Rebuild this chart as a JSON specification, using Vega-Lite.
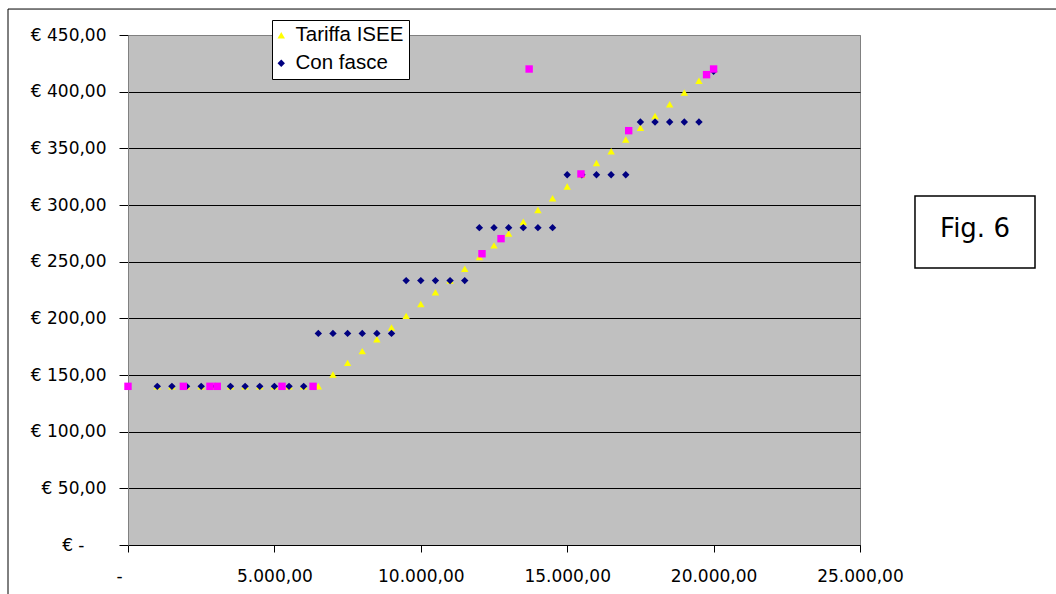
{
  "$schema": "https://vega.github.io/schema/vega-lite/v6.json",
  "width": 732,
  "height": 510,
  "autosize": {"type": "none"},
  "padding": {"left": 128, "top": 35, "right": 196, "bottom": 49},
  "background": "white",
  "config": {
    "view": {"fill": "#C0C0C0", "stroke": "#808080", "strokeWidth": 1},
    "font": "Liberation Sans"
  },
  "datasets": {
    "pts": [
      {"s": "Tariffa ISEE", "x": 1000, "y": 140},
      {"s": "Tariffa ISEE", "x": 1500, "y": 140},
      {"s": "Tariffa ISEE", "x": 2000, "y": 140},
      {"s": "Tariffa ISEE", "x": 2500, "y": 140},
      {"s": "Tariffa ISEE", "x": 3000, "y": 140},
      {"s": "Tariffa ISEE", "x": 3500, "y": 140},
      {"s": "Tariffa ISEE", "x": 4000, "y": 140},
      {"s": "Tariffa ISEE", "x": 4500, "y": 140},
      {"s": "Tariffa ISEE", "x": 5000, "y": 140},
      {"s": "Tariffa ISEE", "x": 5500, "y": 140},
      {"s": "Tariffa ISEE", "x": 6000, "y": 140},
      {"s": "Tariffa ISEE", "x": 6500, "y": 140},
      {"s": "Tariffa ISEE", "x": 7000, "y": 150.4},
      {"s": "Tariffa ISEE", "x": 7500, "y": 160.7},
      {"s": "Tariffa ISEE", "x": 8000, "y": 171.1},
      {"s": "Tariffa ISEE", "x": 8500, "y": 181.5},
      {"s": "Tariffa ISEE", "x": 9000, "y": 191.9},
      {"s": "Tariffa ISEE", "x": 9500, "y": 202.2},
      {"s": "Tariffa ISEE", "x": 10000, "y": 212.6},
      {"s": "Tariffa ISEE", "x": 10500, "y": 223.0},
      {"s": "Tariffa ISEE", "x": 11000, "y": 233.3},
      {"s": "Tariffa ISEE", "x": 11500, "y": 243.7},
      {"s": "Tariffa ISEE", "x": 12000, "y": 254.1},
      {"s": "Tariffa ISEE", "x": 12500, "y": 264.4},
      {"s": "Tariffa ISEE", "x": 13000, "y": 274.8},
      {"s": "Tariffa ISEE", "x": 13500, "y": 285.2},
      {"s": "Tariffa ISEE", "x": 14000, "y": 295.6},
      {"s": "Tariffa ISEE", "x": 14500, "y": 305.9},
      {"s": "Tariffa ISEE", "x": 15000, "y": 316.3},
      {"s": "Tariffa ISEE", "x": 15500, "y": 326.7},
      {"s": "Tariffa ISEE", "x": 16000, "y": 337.0},
      {"s": "Tariffa ISEE", "x": 16500, "y": 347.4},
      {"s": "Tariffa ISEE", "x": 17000, "y": 357.8},
      {"s": "Tariffa ISEE", "x": 17500, "y": 368.1},
      {"s": "Tariffa ISEE", "x": 18000, "y": 378.5},
      {"s": "Tariffa ISEE", "x": 18500, "y": 388.9},
      {"s": "Tariffa ISEE", "x": 19000, "y": 399.3},
      {"s": "Tariffa ISEE", "x": 19500, "y": 409.6},
      {"s": "Tariffa ISEE", "x": 20000, "y": 420.0},
      {"s": "Con fasce", "x": 1000, "y": 140},
      {"s": "Con fasce", "x": 1500, "y": 140},
      {"s": "Con fasce", "x": 2000, "y": 140},
      {"s": "Con fasce", "x": 2500, "y": 140},
      {"s": "Con fasce", "x": 3000, "y": 140},
      {"s": "Con fasce", "x": 3500, "y": 140},
      {"s": "Con fasce", "x": 4000, "y": 140},
      {"s": "Con fasce", "x": 4500, "y": 140},
      {"s": "Con fasce", "x": 5000, "y": 140},
      {"s": "Con fasce", "x": 5500, "y": 140},
      {"s": "Con fasce", "x": 6000, "y": 140},
      {"s": "Con fasce", "x": 6500, "y": 186.7},
      {"s": "Con fasce", "x": 7000, "y": 186.7},
      {"s": "Con fasce", "x": 7500, "y": 186.7},
      {"s": "Con fasce", "x": 8000, "y": 186.7},
      {"s": "Con fasce", "x": 8500, "y": 186.7},
      {"s": "Con fasce", "x": 9000, "y": 186.7},
      {"s": "Con fasce", "x": 9500, "y": 233.3},
      {"s": "Con fasce", "x": 10000, "y": 233.3},
      {"s": "Con fasce", "x": 10500, "y": 233.3},
      {"s": "Con fasce", "x": 11000, "y": 233.3},
      {"s": "Con fasce", "x": 11500, "y": 233.3},
      {"s": "Con fasce", "x": 12000, "y": 280.0},
      {"s": "Con fasce", "x": 12500, "y": 280.0},
      {"s": "Con fasce", "x": 13000, "y": 280.0},
      {"s": "Con fasce", "x": 13500, "y": 280.0},
      {"s": "Con fasce", "x": 14000, "y": 280.0},
      {"s": "Con fasce", "x": 14500, "y": 280.0},
      {"s": "Con fasce", "x": 15000, "y": 326.7},
      {"s": "Con fasce", "x": 15500, "y": 326.7},
      {"s": "Con fasce", "x": 16000, "y": 326.7},
      {"s": "Con fasce", "x": 16500, "y": 326.7},
      {"s": "Con fasce", "x": 17000, "y": 326.7},
      {"s": "Con fasce", "x": 17500, "y": 373.3},
      {"s": "Con fasce", "x": 18000, "y": 373.3},
      {"s": "Con fasce", "x": 18500, "y": 373.3},
      {"s": "Con fasce", "x": 19000, "y": 373.3},
      {"s": "Con fasce", "x": 19500, "y": 373.3},
      {"s": "Con fasce", "x": 20000, "y": 418.0},
      {"s": "Altro", "x": 0, "y": 140},
      {"s": "Altro", "x": 1890, "y": 140},
      {"s": "Altro", "x": 2800, "y": 140},
      {"s": "Altro", "x": 3050, "y": 140},
      {"s": "Altro", "x": 5260, "y": 140},
      {"s": "Altro", "x": 6320, "y": 140},
      {"s": "Altro", "x": 12090, "y": 257},
      {"s": "Altro", "x": 12740, "y": 270.3},
      {"s": "Altro", "x": 13700, "y": 420},
      {"s": "Altro", "x": 15470, "y": 327.4},
      {"s": "Altro", "x": 17100, "y": 365.6},
      {"s": "Altro", "x": 19760, "y": 415},
      {"s": "Altro", "x": 20000, "y": 420}
    ],
    "frame": [{"x": -4098, "x2": 36000, "y": 472.9, "y2": -100}],
    "fig": [{"x": 26878, "x2": 30977, "y": 308, "y2": 244.4, "xc": 28928, "yc": 279, "t": "Fig. 6"}]
  },
  "layer": [
    {
      "data": {"name": "pts"},
      "mark": {"type": "point", "filled": true, "opacity": 1, "strokeWidth": 0},
      "encoding": {
        "x": {
          "field": "x", "type": "quantitative",
          "scale": {"domain": [0, 25000], "nice": false, "zero": false},
          "axis": {
            "title": null,
            "values": [0, 5000, 10000, 15000, 20000, 25000],
            "grid": false,
            "domainColor": "black",
            "tickColor": "black",
            "tickSize": 7,
            "labelPadding": 16,
            "labelFlush": false,
            "labelOverlap": false,
            "labelFont": "DejaVu Sans",
            "labelFontSize": 17,
            "labelColor": "black",
            "labelOffset": {"condition": {"test": "datum.value === 0", "value": -9}, "value": 0},
            "labelExpr": "datum.value === 0 ? '-' : format(datum.value/1000, 'd') + '.000,00'"
          }
        },
        "y": {
          "field": "y", "type": "quantitative",
          "scale": {"domain": [0, 450], "nice": false, "zero": false},
          "axis": {
            "title": null,
            "values": [0, 50, 100, 150, 200, 250, 300, 350, 400, 450],
            "grid": true,
            "gridColor": {"condition": {"test": "datum.value === 450", "value": "#808080"}, "value": "black"},
            "gridOpacity": 1,
            "gridWidth": 1,
            "domainColor": "#808080",
            "tickColor": "black",
            "tickSize": 9,
            "labelFlush": false,
            "labelPadding": {"condition": {"test": "datum.value === 0", "value": 35}, "value": 13},
            "labelFont": "DejaVu Sans",
            "labelFontSize": 17,
            "labelColor": "black",
            "labelExpr": "datum.value === 0 ? '€ -' : '€ ' + replace(format(datum.value, '.2f'), '.', ',')"
          }
        },
        "color": {
          "field": "s", "type": "nominal",
          "scale": {"domain": ["Tariffa ISEE", "Con fasce", "Altro"], "range": ["#FFFF00", "#000080", "#FF00FF"]},
          "legend": {
            "values": ["Tariffa ISEE", "Con fasce"],
            "title": null,
            "orient": "none",
            "legendX": 144,
            "legendY": -15,
            "fillColor": "white",
            "strokeColor": "black",
            "padding": 5,
            "labelFont": "Liberation Sans",
            "labelFontSize": 20.5,
            "labelColor": "black",
            "symbolSize": 28,
            "symbolOffset": -6,
            "labelOffset": 4,
            "rowPadding": 7,
            "symbolStrokeWidth": 0
          }
        },
        "shape": {
          "field": "s", "type": "nominal",
          "scale": {"domain": ["Tariffa ISEE", "Con fasce", "Altro"], "range": ["triangle-up", "diamond", "square"]},
          "legend": {
            "values": ["Tariffa ISEE", "Con fasce"],
            "title": null,
            "orient": "none",
            "legendX": 144,
            "legendY": -15,
            "fillColor": "white",
            "strokeColor": "black",
            "padding": 5,
            "labelFont": "Liberation Sans",
            "labelFontSize": 20.5,
            "labelColor": "black",
            "symbolSize": 28,
            "symbolOffset": -6,
            "labelOffset": 4,
            "rowPadding": 7,
            "symbolStrokeWidth": 0
          }
        },
        "size": {
          "field": "s", "type": "nominal",
          "scale": {"domain": ["Tariffa ISEE", "Con fasce", "Altro"], "range": [55, 55, 40]},
          "legend": null
        }
      }
    },
    {
      "data": {"name": "frame"},
      "mark": {"type": "rect", "filled": false, "stroke": "black", "strokeWidth": 1},
      "encoding": {
        "x": {"field": "x", "type": "quantitative"},
        "x2": {"field": "x2"},
        "y": {"field": "y", "type": "quantitative"},
        "y2": {"field": "y2"}
      }
    },
    {
      "data": {"name": "fig"},
      "mark": {"type": "rect", "fill": "white", "stroke": "black", "strokeWidth": 1.5},
      "encoding": {
        "x": {"field": "x", "type": "quantitative"},
        "x2": {"field": "x2"},
        "y": {"field": "y", "type": "quantitative"},
        "y2": {"field": "y2"}
      }
    },
    {
      "data": {"name": "fig"},
      "mark": {"type": "text", "font": "DejaVu Sans", "fontSize": 26, "align": "center", "baseline": "middle", "color": "black"},
      "encoding": {
        "x": {"field": "xc", "type": "quantitative"},
        "y": {"field": "yc", "type": "quantitative"},
        "text": {"field": "t"}
      }
    }
  ]
}
